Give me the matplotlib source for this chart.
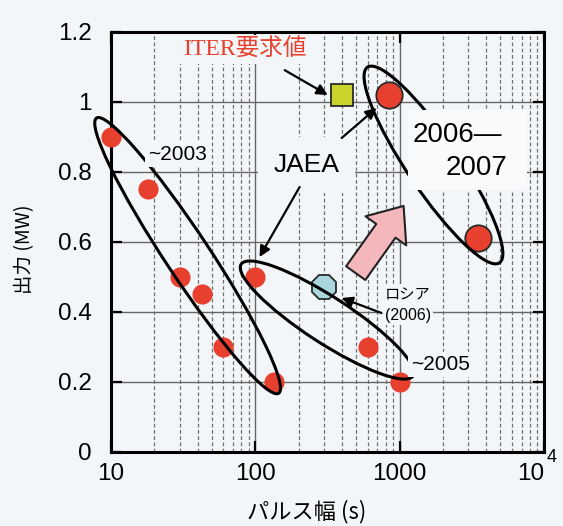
import numpy as np
import matplotlib.pyplot as plt
from matplotlib.patches import Ellipse, Rectangle, FancyArrowPatch
from matplotlib.ticker import LogLocator, NullFormatter
from matplotlib.transforms import ScaledTranslation

plt.rcParams['font.family'] = ['Liberation Sans', 'Noto Sans CJK JP', 'DejaVu Sans']
NARROW = ['Liberation Sans Narrow', 'Liberation Sans']
JP = ['Noto Sans CJK JP', 'DejaVu Sans']

# パルス幅 (s) と 出力 (MW)
pulse_2003 = [10, 18, 30, 43, 60, 135]
power_2003 = [0.9, 0.75, 0.5, 0.45, 0.3, 0.2]
pulse_2005 = [100, 600, 1000]
power_2005 = [0.5, 0.3, 0.2]
pulse_2007 = [850, 3500]
power_2007 = [1.02, 0.61]
iter_pulse = [400]
iter_power = [1.02]
russia_pulse = [300]
russia_power = [0.47]

x_ticks = [10, 100, 1000, 10000]
x_ticklabels = ['10', '100', '1000', '10']
y_ticks = [0, 0.2, 0.4, 0.6, 0.8, 1.0, 1.2]
y_ticklabels = ['0', '0.2', '0.4', '0.6', '0.8', '1', '1.2']

bg = '#f3f6f9'
red = '#e8402f'

fig = plt.figure(figsize=(5.63, 5.26), dpi=100, facecolor=bg)
ax = fig.add_axes([0.197, 0.1407, 0.769, 0.7985], facecolor=bg)
ax.set_xscale('log')

# グリッド
ax.set_axisbelow(True)
ax.xaxis.set_minor_locator(LogLocator(base=10, subs=np.arange(2, 10)))
ax.xaxis.set_minor_formatter(NullFormatter())
ax.grid(which='major', color='#666666', lw=1.0)
ax.grid(which='minor', axis='x', color='#707070', lw=0.9, ls=(0, (3, 2)))

# データ点
ax.plot(pulse_2003, power_2003, 'o', ms=14.5, color=red, mec='none', zorder=3, clip_on=False)
ax.plot(pulse_2005, power_2005, 'o', ms=14.5, color=red, mec='none', zorder=3)
ax.plot(pulse_2007, power_2007, 'o', ms=19, color=red, mec='#2a2a2a', mew=1.3, zorder=3)
ax.plot(iter_pulse, iter_power, 's', ms=15.5, color='#c8d42c', mec='#2a2a2a', mew=1.3, zorder=3)
ax.plot(russia_pulse, russia_power, '8', ms=19, color='#a8d8de', mec='#2a2a2a', mew=1.3, zorder=3)


def ring(x, y, w, h, ang):
    # 楕円: 中心はデータ座標、大きさはピクセル
    tr = fig.dpi_scale_trans + ScaledTranslation(x, y, ax.transData)
    ax.add_patch(Ellipse((0, 0), w / 100, h / 100, angle=ang, transform=tr,
                         fill=False, ec='black', lw=2.2, zorder=4, clip_on=False))


ring(34, 0.561, 330, 44, -56.5)
ring(315, 0.377, 205, 46, -33)
ring(1718, 0.82, 236, 52, -56)

# 2006-2007 の白抜き
ax.add_patch(Rectangle((0.686, 0.624), 0.275, 0.19, transform=ax.transAxes,
                       fc='#f8fafc', ec='none', zorder=5))
ax.text(1231, 0.906, '2006—', family=NARROW, fontsize=20, va='center', ha='left', zorder=6)
ax.text(5585, 0.811, '2007', family=NARROW, fontsize=20, va='center', ha='right', zorder=6)

box = dict(boxstyle='square,pad=0.15', fc=bg, ec='none')
ax.text(227, 0.82, 'JAEA', fontsize=19, ha='center', va='center', zorder=6,
        bbox=dict(boxstyle='square,pad=0.6', fc=bg, ec='none'))
ax.text(18, 0.849, '~2003', fontsize=15, ha='left', va='center', zorder=6, bbox=box)
ax.text(1211, 0.249, '~2005', fontsize=15, ha='left', va='center', zorder=6, bbox=box)
ax.text(787, 0.449, 'ロシア', family=JP, fontsize=11, ha='left', va='center', zorder=6, bbox=box)
ax.text(787, 0.391, '(2006)', fontsize=11.5, ha='left', va='center', zorder=6, bbox=box)
ax.text(31.5, 1.149, 'ITER要求値', family=['Liberation Serif', 'Noto Sans CJK JP'],
        fontsize=17, color=red, ha='left', va='center', zorder=6, bbox=box)

# 矢印
arrows = [((160, 1.091), (318, 1.02)),
          ((397, 0.897), (693, 0.983)),
          ((203, 0.757), (107, 0.557)),
          ((750, 0.397), (397, 0.44))]
for start, tip in arrows:
    ax.annotate('', xy=tip, xytext=start, zorder=7,
                arrowprops=dict(arrowstyle='-|>', color='black', lw=1.6,
                                mutation_scale=16, shrinkA=0, shrinkB=0))

ax.add_patch(FancyArrowPatch((497, 0.511), (1067, 0.703),
                             arrowstyle='simple,head_width=3.6,head_length=2.2,tail_width=1.7',
                             mutation_scale=10, fc='#f3b7bc', ec='#222222', lw=1.5,
                             shrinkA=0, shrinkB=0, zorder=6))

# 軸
ax.set_xlim(10, 1e4)
ax.set_ylim(0, 1.2)
ax.set_xticks(x_ticks)
ax.set_xticklabels(x_ticklabels, family=NARROW, fontsize=17.5)
ax.set_yticks(y_ticks)
ax.set_yticklabels(y_ticklabels, family=NARROW, fontsize=17.5)
ax.get_xticklabels()[-1].set_ha('right')
ax.text(1.018, -0.014, '4', transform=ax.transAxes, family=NARROW, fontsize=13,
        ha='center', va='center', clip_on=False)
ax.tick_params(which='major', direction='in', length=8, width=1.6,
               top=True, right=True, color='black')
ax.tick_params(axis='x', which='major', pad=8)
ax.tick_params(axis='y', which='major', pad=14)
ax.tick_params(which='minor', length=0)
for s in ax.spines.values():
    s.set_linewidth(2.2)
    s.set_color('black')

ax.set_xlabel('パルス幅 (s)', family=JP, fontsize=16, ha='center', va='center')
ax.xaxis.set_label_coords(0.453, -0.143)
ax.set_ylabel('出力 (MW)', family=JP, fontsize=14, ha='center', va='center')
ax.yaxis.set_label_coords(-0.199, 0.483)

fig.savefig('out.png', dpi=100, facecolor=bg)
